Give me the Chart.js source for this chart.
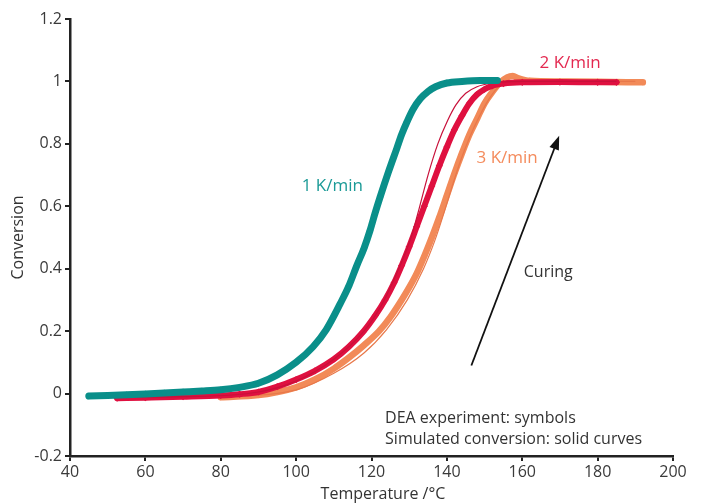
<!DOCTYPE html>
<html>
<head>
<meta charset="utf-8">
<script src="https://cdn.jsdelivr.net/npm/chart.js@4.4.1/dist/chart.umd.min.js"></script>
<style>
  html, body { margin: 0; padding: 0; background: #ffffff; }
  canvas { display: block; }
</style>
</head>
<body>
<canvas id="chart" width="705" height="504"></canvas>
<script>
// Conversion vs. temperature for three heating rates (DEA symbols + simulated curves)
const xTicks = [40, 60, 80, 100, 120, 140, 160, 180, 200];
const yTickLabels = ['-0.2', '0', '0.2', '0.4', '0.6', '0.8', '1', '1.2'];

// 1 K/min – measured
const temp1 = [45, 50, 55, 60, 65, 70, 75, 80, 85, 90, 95, 100, 104.5, 108, 111.7, 114, 116.1, 118, 119.6, 121, 122.3, 124.5, 126.7, 128, 129.4, 131, 133, 135, 137, 140, 144, 148.8, 153.4];
const conv1 = [-0.008, -0.006, -0.004, -0.001, 0.002, 0.005, 0.008, 0.012, 0.02, 0.033, 0.06, 0.1, 0.15, 0.205, 0.288, 0.345, 0.41, 0.465, 0.522, 0.58, 0.63, 0.71, 0.785, 0.83, 0.87, 0.91, 0.945, 0.968, 0.983, 0.995, 1.0, 1.003, 1.003];

// 2 K/min – measured
const temp2 = [52.5, 60, 70, 80, 85, 90, 95, 100, 105, 110, 114, 117.8, 121, 123.6, 126, 128, 130, 132, 134, 136, 138, 140, 142, 144, 146, 148, 150, 152, 155, 160, 170, 180, 185];
const conv2 = [-0.015, -0.013, -0.01, -0.006, -0.002, 0.005, 0.022, 0.045, 0.073, 0.11, 0.15, 0.198, 0.25, 0.3, 0.355, 0.41, 0.47, 0.535, 0.6, 0.665, 0.73, 0.79, 0.845, 0.89, 0.93, 0.958, 0.975, 0.986, 0.993, 0.997, 0.998, 0.997, 0.997];

// 3 K/min – measured
const temp3 = [80, 90, 95, 100, 105, 110, 114, 118, 122, 125, 128, 130, 132, 134, 136, 138, 140, 142, 144, 146, 148, 150, 152, 154, 156, 157.5, 159, 162, 170, 180, 192];
const conv3 = [-0.012, -0.005, 0.005, 0.02, 0.045, 0.08, 0.115, 0.155, 0.2, 0.245, 0.3, 0.34, 0.385, 0.44, 0.5, 0.565, 0.635, 0.705, 0.77, 0.83, 0.88, 0.93, 0.965, 0.995, 1.013, 1.017, 1.01, 1.002, 1.0, 0.999, 0.997];

// Simulated conversion curves
const simTemp1 = [45, 60, 80, 90, 100, 108, 114, 119.6, 124.5, 129.4, 134.7, 140, 150, 154];
const simConv1 = [-0.008, -0.001, 0.012, 0.033, 0.1, 0.205, 0.345, 0.522, 0.71, 0.87, 0.965, 0.995, 1.0, 1.0];
const simTemp2 = [52, 70, 90, 100, 110, 118, 122.5, 126.5, 130.5, 132.8, 135, 137.6, 140.2, 142.4, 145, 148, 152, 160, 185];
const simConv2 = [-0.012, -0.01, 0.005, 0.04, 0.11, 0.2, 0.28, 0.38, 0.5, 0.6, 0.7, 0.8, 0.875, 0.925, 0.962, 0.983, 0.995, 1.0, 1.0];
const simTemp3 = [80, 100, 110, 118, 124, 129.5, 133.8, 136.8, 139, 141.3, 143.6, 146, 148.5, 151, 154, 160, 190];
const simConv3 = [-0.012, 0.012, 0.065, 0.13, 0.205, 0.3, 0.4, 0.49, 0.57, 0.66, 0.745, 0.82, 0.885, 0.94, 0.985, 1.0, 1.0];

const pts = (xs, ys) => xs.map((x, i) => ({ x: x, y: ys[i] }));

const TEAL = '#0a8f8a', RED = '#df1040', ORANGE = '#f28a58';
const FONT = '"Open Sans", "Noto Sans", sans-serif';

// Text labels, arrow and axis titles drawn in data coordinates
const notes = {
  id: 'notes',
  afterDatasetsDraw(chart) {
    const { ctx, scales: { x, y } } = chart;
    ctx.save();
    const text = (s, vx, vy, color, size, align) => {
      ctx.font = size + 'px ' + FONT;
      ctx.fillStyle = color;
      ctx.textAlign = align || 'center';
      ctx.textBaseline = 'middle';
      ctx.fillText(s, x.getPixelForValue(vx), y.getPixelForValue(vy));
    };
    text('1 K/min', 109.6, 0.666, '#1a9a96', 17);
    text('2 K/min', 172.7, 1.057, '#e3284f', 17);
    text('3 K/min', 156, 0.753, '#f48b5c', 17);
    text('Curing', 166.9, 0.388, '#333333', 16);
    text('DEA experiment: symbols', 123.6, -0.079, '#333333', 16, 'left');
    text('Simulated conversion: solid curves', 123.6, -0.147, '#333333', 16, 'left');

    // arrow
    const x0 = x.getPixelForValue(146.5), y0 = y.getPixelForValue(0.09);
    const x1 = x.getPixelForValue(169.8), y1 = y.getPixelForValue(0.826);
    const ang = Math.atan2(y1 - y0, x1 - x0);
    const head = 14, half = 5;
    ctx.strokeStyle = '#111111';
    ctx.lineWidth = 1.8;
    ctx.beginPath();
    ctx.moveTo(x0, y0);
    ctx.lineTo(x1 - Math.cos(ang) * head * 0.8, y1 - Math.sin(ang) * head * 0.8);
    ctx.stroke();
    ctx.fillStyle = '#111111';
    ctx.beginPath();
    ctx.moveTo(x1, y1);
    ctx.lineTo(x1 - Math.cos(ang) * head + Math.sin(ang) * half, y1 - Math.sin(ang) * head - Math.cos(ang) * half);
    ctx.lineTo(x1 - Math.cos(ang) * head - Math.sin(ang) * half, y1 - Math.sin(ang) * head + Math.cos(ang) * half);
    ctx.closePath();
    ctx.fill();

    // axis titles
    ctx.fillStyle = '#333333';
    ctx.font = '16px ' + FONT;
    ctx.textAlign = 'center';
    ctx.textBaseline = 'middle';
    ctx.fillText('Temperature /°C', 383, 494);
    ctx.translate(18, (chart.chartArea.top + chart.chartArea.bottom) / 2);
    ctx.rotate(-Math.PI / 2);
    ctx.fillText('Conversion', 0, 0);
    ctx.restore();
  }
};

const symbolSet = (label, xs, ys, color, width, radius) => ({
  label, data: pts(xs, ys), borderColor: color, backgroundColor: color,
  borderWidth: width, pointStyle: 'rectRot', pointRadius: radius, pointBorderWidth: 0,
  cubicInterpolationMode: 'monotone', borderCapStyle: 'round', borderJoinStyle: 'round'
});
const simSet = (label, xs, ys, color) => ({
  label, data: pts(xs, ys), borderColor: color, borderWidth: 1.2, pointRadius: 0,
  cubicInterpolationMode: 'monotone'
});

new Chart(document.getElementById('chart'), {
  type: 'line',
  data: {
    datasets: [
      // higher order = painted further back
      Object.assign(symbolSet('3 K/min', temp3, conv3, ORANGE, 6.5, 3.2), { order: 6 }),
      Object.assign(simSet('3 K/min sim', simTemp3, simConv3, '#e8784a'), { order: 5 }),
      Object.assign(symbolSet('2 K/min', temp2, conv2, RED, 6, 3.6), { order: 4 }),
      Object.assign(simSet('2 K/min sim', simTemp2, simConv2, '#c8103a'), { order: 3 }),
      Object.assign(simSet('1 K/min sim', simTemp1, simConv1, '#067a76'), { order: 2 }),
      Object.assign(symbolSet('1 K/min', temp1, conv1, TEAL, 7, 3.4), { order: 1 })
    ]
  },
  options: {
    responsive: false,
    animation: false,
    layout: { padding: { left: 0, top: 19, right: 32, bottom: 0 } },
    plugins: { legend: { display: false }, tooltip: { enabled: false } },
    scales: {
      x: {
        type: 'linear', min: 40, max: 200,
        afterBuildTicks: s => { s.ticks = xTicks.map(v => ({ value: v })); },
        afterFit: s => { s.height = 48; },
        border: { display: true, color: '#222222', width: 2.5 },
        grid: { drawOnChartArea: false, drawTicks: true, tickLength: 5, color: '#222222', lineWidth: 2 },
        ticks: { color: '#3a3a3a', font: { family: FONT, size: 16 }, padding: 2, maxRotation: 0 },
        title: { display: false }
      },
      y: {
        type: 'linear', min: -0.2, max: 1.2,
        afterBuildTicks: s => { s.ticks = yTickLabels.map(t => ({ value: parseFloat(t) })); },
        afterFit: s => { s.width = 70; },
        border: { display: true, color: '#222222', width: 2.5 },
        grid: { drawOnChartArea: false, drawTicks: true, tickLength: 5, color: '#222222', lineWidth: 2 },
        ticks: {
          color: '#3a3a3a', font: { family: FONT, size: 16 }, padding: 3,
          callback: (v) => yTickLabels.find(t => Math.abs(parseFloat(t) - v) < 1e-9)
        },
        title: { display: false }
      }
    }
  },
  plugins: [notes]
});
</script>
</body>
</html>
